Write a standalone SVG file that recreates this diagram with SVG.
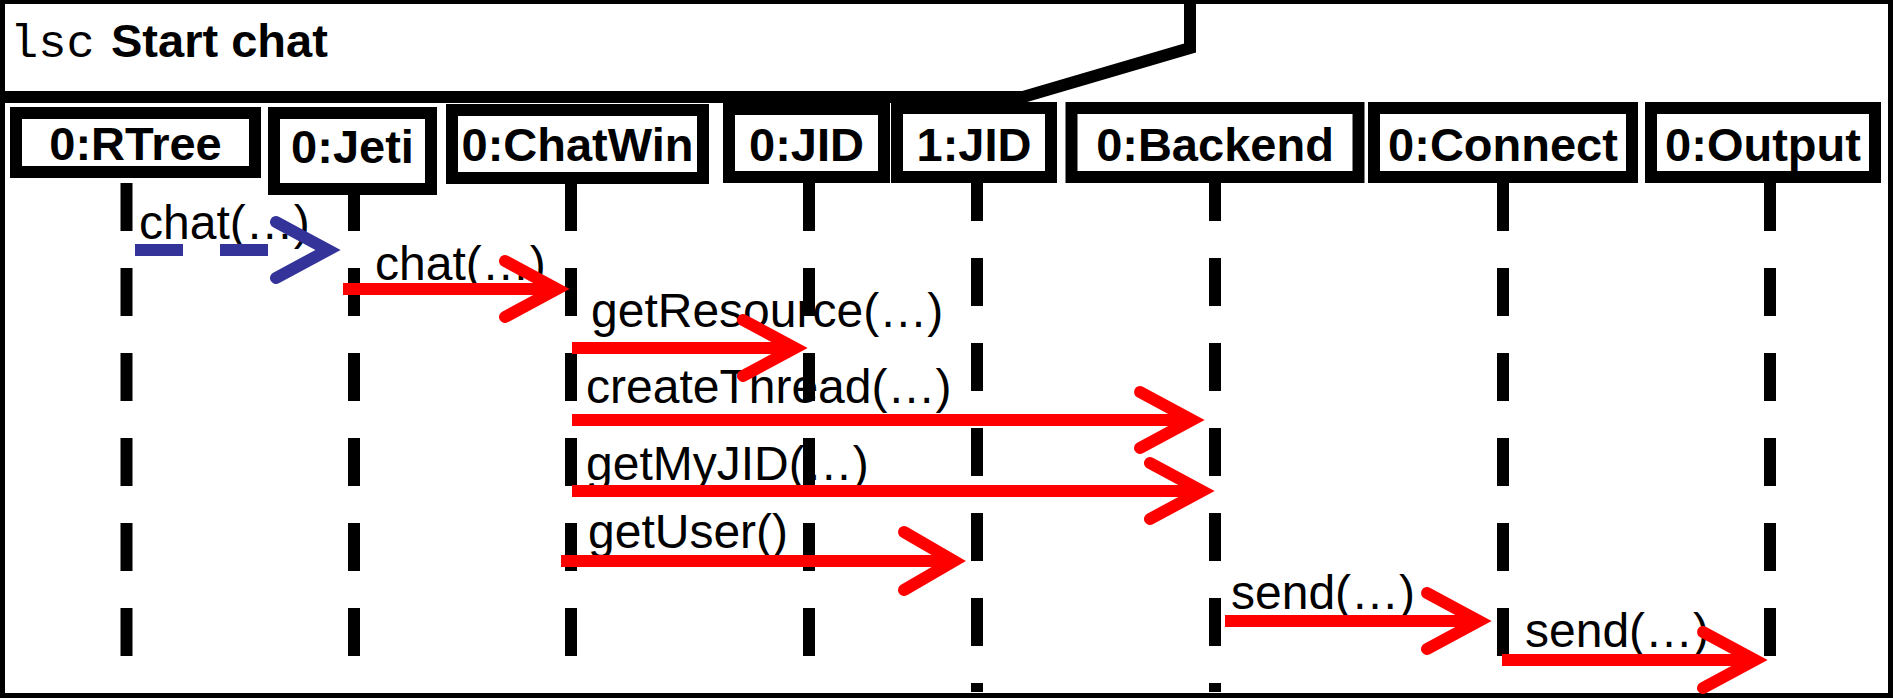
<svg xmlns="http://www.w3.org/2000/svg" width="1893" height="699" viewBox="0 0 1893 699">
<style>
.frame{fill:#fff;stroke:#000;stroke-width:5}
.hdr{fill:none;stroke:#000;stroke-width:12;stroke-linejoin:miter}
.life{stroke:#000;stroke-width:12;stroke-dasharray:48 37;fill:none}
.lifeb{stroke-dashoffset:10}
.box{fill:#fff;stroke:#000;stroke-width:12}
.bl{font-family:"Liberation Sans",Arial,sans-serif;font-weight:bold;font-size:47px;text-anchor:middle;fill:#000}
.ml{font-family:"Liberation Sans",Arial,sans-serif;font-size:48px;fill:#000}
.msg{stroke:#f00;stroke-width:12;fill:none}
.head{stroke:#f00;stroke-width:12;fill:none;stroke-linecap:round;stroke-linejoin:miter}
.amsg{stroke:#333399;stroke-width:12;fill:none;stroke-dasharray:48 37}
.ahead{stroke:#333399;stroke-width:12;fill:none;stroke-linecap:round;stroke-linejoin:miter}
</style>
<rect class="frame" x="2.5" y="1.5" width="1888" height="694"/>
<g id="header">
<polyline class="hdr" points="0,97 1023,97 1190,48 1190,0"/>
<text x="10" y="57" font-family="'Liberation Mono','Courier New',monospace" font-size="47">lsc</text>
<text x="111" y="57" font-family="'Liberation Sans',Arial,sans-serif" font-weight="bold" font-size="47">Start chat</text>
</g>
<g id="lifelines">
<line class="life" x1="126.5" y1="183" x2="126.5" y2="692"/>
<line class="life" x1="354" y1="183" x2="354" y2="692"/>
<line class="life" x1="571" y1="183" x2="571" y2="692"/>
<line class="life" x1="809" y1="183" x2="809" y2="692"/>
<line class="life lifeb" x1="977" y1="183" x2="977" y2="692"/>
<line class="life lifeb" x1="1215" y1="183" x2="1215" y2="692"/>
<line class="life" x1="1503" y1="183" x2="1503" y2="692"/>
<line class="life" x1="1770" y1="183" x2="1770" y2="692"/>
</g>
<g id="n-rtree"><rect class="box" x="16" y="113" width="239" height="59"/><text class="bl" x="135.5" y="160">0:RTree</text></g>
<g id="n-jeti"><rect class="box" x="274" y="113" width="157" height="76"/><text class="bl" x="352.5" y="163">0:Jeti</text></g>
<g id="n-chatwin"><rect class="box" x="452" y="110" width="251" height="68"/><text class="bl" x="577.5" y="161">0:ChatWin</text></g>
<g id="n-jid0"><rect class="box" x="729" y="109" width="155" height="68"/><text class="bl" x="806.5" y="161">0:JID</text></g>
<g id="n-jid1"><rect class="box" x="897" y="108" width="154" height="69"/><text class="bl" x="974" y="161">1:JID</text></g>
<g id="n-backend"><rect class="box" x="1071.5" y="108" width="287" height="69"/><text class="bl" x="1215" y="161">0:Backend</text></g>
<g id="n-connect"><rect class="box" x="1374" y="108" width="258" height="69"/><text class="bl" x="1503" y="161">0:Connect</text></g>
<g id="n-output"><rect class="box" x="1651" y="108" width="224" height="69"/><text class="bl" x="1763" y="161">0:Output</text></g>
<g id="connectors">
<text class="ml" x="139" y="239">chat(…)</text>
<text class="ml" x="375" y="280">chat(…)</text>
<text class="ml" x="591" y="327">getResource(…)</text>
<text class="ml" x="586" y="403">createThread(…)</text>
<text class="ml" x="586" y="480">getMyJID(…)</text>
<text class="ml" x="588" y="548">getUser()</text>
<text class="ml" x="1231" y="609">send(…)</text>
<text class="ml" x="1525" y="647">send(…)</text>
<line class="amsg" x1="135" y1="250" x2="290" y2="250"/>
<polyline class="ahead" points="276,222 328,250 276,278"/>
<line class="msg" x1="343" y1="289" x2="557" y2="289"/>
<polyline class="head" points="505,261 557,289 505,317"/>
<line class="msg" x1="572" y1="348" x2="795" y2="348"/>
<polyline class="head" points="743,320 795,348 743,376"/>
<line class="msg" x1="572" y1="420" x2="1192" y2="420"/>
<polyline class="head" points="1140,392 1192,420 1140,448"/>
<line class="msg" x1="572" y1="491" x2="1202" y2="491"/>
<polyline class="head" points="1150,463 1202,491 1150,519"/>
<line class="msg" x1="561" y1="561" x2="954" y2="561"/>
<polyline class="head" points="904,532 954,561 904,590"/>
<line class="msg" x1="1225" y1="621" x2="1479" y2="621"/>
<polyline class="head" points="1427,593 1479,621 1427,649"/>
<line class="msg" x1="1502" y1="660" x2="1755" y2="660"/>
<polyline class="head" points="1703,632 1755,660 1703,688"/>
</g>
</svg>
